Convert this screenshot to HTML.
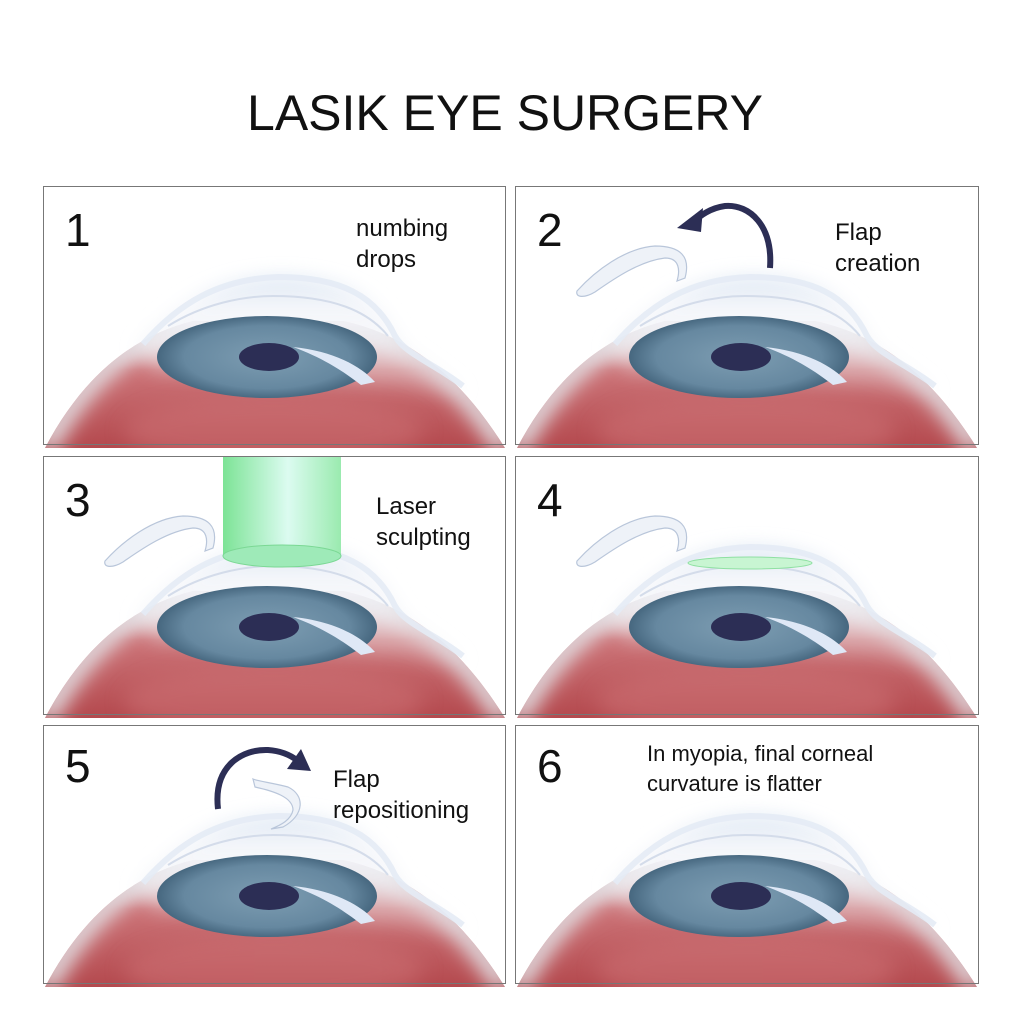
<!DOCTYPE html>
<html><head><meta charset="utf-8"><style>
html,body{margin:0;padding:0;background:#fff;}
svg{display:block}
text{font-family:"Liberation Sans",sans-serif;fill:#111}
</style></head><body>
<svg width="1024" height="1024" viewBox="0 0 1024 1024">
<defs>
<linearGradient id="scl" gradientUnits="userSpaceOnUse" x1="0" y1="120" x2="0" y2="262">
<stop offset="0" stop-color="#eeeef1"/><stop offset="0.25" stop-color="#e2c0c2"/><stop offset="0.45" stop-color="#cc7478"/><stop offset="1" stop-color="#b4494e"/></linearGradient>
<filter id="bl" x="-20%" y="-20%" width="140%" height="140%"><feGaussianBlur stdDeviation="9"/></filter>
<filter id="bl2" x="-20%" y="-20%" width="140%" height="140%"><feGaussianBlur stdDeviation="10"/></filter>
<clipPath id="sc"><path d="M2,262 C40,190 90,150 150,135 L300,135 C370,150 420,195 462,262 Z"/></clipPath>
<radialGradient id="iris" cx="224" cy="171" r="110" gradientTransform="translate(224 171) scale(1 0.38) translate(-224 -171)" gradientUnits="userSpaceOnUse">
<stop offset="0" stop-color="#7d9db2"/><stop offset="0.75" stop-color="#6688a0"/><stop offset="1" stop-color="#46677f"/></radialGradient>
<linearGradient id="corn" x1="0" y1="88" x2="0" y2="200" gradientUnits="userSpaceOnUse">
<stop offset="0" stop-color="#d8e4f2"/><stop offset="0.3" stop-color="#f4f6fa"/><stop offset="1" stop-color="#eef0f3" stop-opacity="0.3"/></linearGradient>
<linearGradient id="beam" x1="0" y1="0" x2="1" y2="0">
<stop offset="0" stop-color="#6ee08a"/><stop offset="0.55" stop-color="#d8fbef"/><stop offset="1" stop-color="#8fe8a6"/></linearGradient>
<g id="eye">
<path d="M2,262 C40,190 90,150 150,135 L300,135 C370,150 420,195 462,262 Z" fill="url(#scl)"/>
<g clip-path="url(#sc)">
<path d="M2,262 C40,190 90,150 150,135 L300,135 C370,150 420,195 462,262" fill="none" stroke="#e2e2e6" stroke-width="22" filter="url(#bl2)"/>
<ellipse cx="231" cy="245" rx="150" ry="35" fill="#cf7478" opacity="0.5" filter="url(#bl2)"/>
</g>
<path d="M92,160 C130,120 170,92 235,90 C300,90 335,110 355,150 C365,168 395,178 425,205 C400,210 380,205 360,200 L110,185 Z" fill="url(#corn)" filter="url(#bl)" opacity="0.9"/>
<path d="M100,158 C135,118 175,93 235,91 C298,91 333,110 352,150 C362,168 392,178 420,200" fill="none" stroke="#e4ebf5" stroke-width="6" opacity="0.9"/>
<path d="M125,140 C160,118 200,110 230,110 C290,110 325,125 345,150" fill="none" stroke="#d4dcea" stroke-width="2"/>
<ellipse cx="224" cy="171" rx="110" ry="41" fill="url(#iris)"/>
<ellipse cx="226" cy="171" rx="30" ry="14" fill="#2c2e55"/>
<path d="M250,161 C290,165 318,180 332,196 L318,199 C300,185 280,172 250,161 Z" fill="#dfe8f6"/>
</g>
<g id="flapL">
<path d="M170,92 C176,70 165,60 140,60 C110,62 80,85 62,105 C60,112 70,112 80,106 C100,92 125,75 150,72 C165,72 165,85 162,95 Z" fill="#eef2f8" stroke="#b9c6da" stroke-width="1.2"/>
</g>
</defs>

<text x="505" y="130" font-size="50" text-anchor="middle">LASIK EYE SURGERY</text>

<!-- panel 1 -->
<g transform="translate(43,186)">
<rect x="0.5" y="0.5" width="462" height="258" fill="#fff" stroke="#777"/>
<use href="#eye"/>
<rect x="0.5" y="0.5" width="462" height="258" fill="none" stroke="#777"/>
<text x="22" y="60" font-size="46">1</text>
<text x="313" y="50" font-size="24">numbing</text>
<text x="313" y="81" font-size="24">drops</text>
</g>

<!-- panel 2 -->
<g transform="translate(515,186)">
<rect x="0.5" y="0.5" width="463" height="258" fill="#fff" stroke="#777"/>
<use href="#eye"/>
<use href="#flapL"/>
<path d="M255,82 C258,40 235,18 210,20 C195,22 185,30 178,36" fill="none" stroke="#2c2e55" stroke-width="6"/>
<path d="M162,42 L188,22 L186,46 Z" fill="#2c2e55"/>
<rect x="0.5" y="0.5" width="463" height="258" fill="none" stroke="#777"/>
<text x="22" y="60" font-size="46">2</text>
<text x="320" y="54" font-size="24">Flap</text>
<text x="320" y="85" font-size="24">creation</text>
</g>

<!-- panel 3 -->
<g transform="translate(43,456)">
<rect x="0.5" y="0.5" width="462" height="258" fill="#fff" stroke="#777"/>
<use href="#eye"/>
<use href="#flapL"/>
<rect x="180" y="0" width="118" height="100" fill="url(#beam)" opacity="0.9"/>
<ellipse cx="239" cy="100" rx="59" ry="11" fill="#9eeab8" stroke="#7bd894"/>
<rect x="0.5" y="0.5" width="462" height="258" fill="none" stroke="#777"/>
<text x="22" y="60" font-size="46">3</text>
<text x="333" y="58" font-size="24">Laser</text>
<text x="333" y="89" font-size="24">sculpting</text>
</g>

<!-- panel 4 -->
<g transform="translate(515,456)">
<rect x="0.5" y="0.5" width="463" height="258" fill="#fff" stroke="#777"/>
<use href="#eye"/>
<use href="#flapL"/>
<ellipse cx="235" cy="107" rx="62" ry="6" fill="#c8f5d2" stroke="#8fe0a2"/>
<rect x="0.5" y="0.5" width="463" height="258" fill="none" stroke="#777"/>
<text x="22" y="60" font-size="46">4</text>
</g>

<!-- panel 5 -->
<g transform="translate(43,725)">
<rect x="0.5" y="0.5" width="462" height="258" fill="#fff" stroke="#777"/>
<use href="#eye"/>
<path d="M240,102 C262,90 262,70 245,62 C230,58 214,56 210,54 L212,62 C230,66 250,72 250,85 C248,95 238,100 228,104 Z" fill="#eef2f8" stroke="#b9c6da" stroke-width="1.2"/>
<path d="M175,84 C170,40 200,24 225,25 C240,26 250,32 255,36" fill="none" stroke="#2c2e55" stroke-width="6"/>
<path d="M268,46 L244,44 L258,24 Z" fill="#2c2e55"/>
<rect x="0.5" y="0.5" width="462" height="258" fill="none" stroke="#777"/>
<text x="22" y="57" font-size="46">5</text>
<text x="290" y="62" font-size="24">Flap</text>
<text x="290" y="93" font-size="24">repositioning</text>
</g>

<!-- panel 6 -->
<g transform="translate(515,725)">
<rect x="0.5" y="0.5" width="463" height="258" fill="#fff" stroke="#777"/>
<use href="#eye"/>
<rect x="0.5" y="0.5" width="463" height="258" fill="none" stroke="#777"/>
<text x="22" y="57" font-size="46">6</text>
<text x="132" y="36" font-size="22">In myopia, final corneal</text>
<text x="132" y="66" font-size="22">curvature is flatter</text>
</g>
</svg>
</body></html>
